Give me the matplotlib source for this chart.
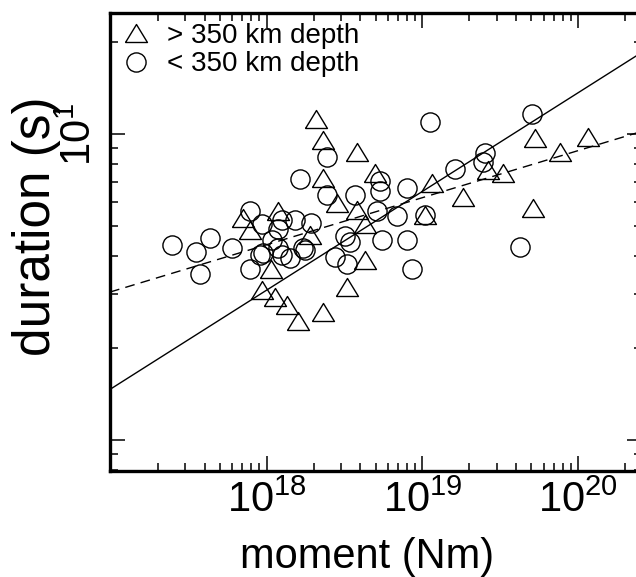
import numpy as np
import matplotlib
matplotlib.use("Agg")
import matplotlib.pyplot as plt
from matplotlib.lines import Line2D
from matplotlib.ticker import LogLocator, NullFormatter, FixedLocator, FixedFormatter

plt.rcParams['font.family'] = ['Liberation Sans', 'DejaVu Sans']
plt.rcParams['mathtext.fontset'] = 'custom'
plt.rcParams['mathtext.rm'] = 'Liberation Sans'
plt.rcParams['mathtext.it'] = 'Liberation Sans'
plt.rcParams['mathtext.bf'] = 'Liberation Sans'

# ---- data (moment in units of 1e18 Nm, duration in s) ----
deep_moment = [2.09, 2.30, 3.78, 2.30, 4.96, 0.705, 0.781, 1.19, 1.90, 2.83,
               3.80, 4.28, 4.28, 1.066, 10.4, 11.5, 18.3, 26.3, 32.9, 52.7,
               76.3, 115.0, 51.2, 0.933, 1.13, 1.35, 1.59, 2.30, 3.28]
deep_duration = [11.2, 9.58, 8.75, 7.19, 7.47, 5.33, 4.86, 5.61, 4.68, 5.96,
                 5.65, 5.09, 3.88, 3.63, 5.45, 6.93, 6.24, 7.64, 7.47, 9.72,
                 8.75, 9.80, 5.74, 3.10, 2.94, 2.77, 2.45, 2.62, 3.17]

shallow_moment = [11.2, 50.2, 25.2, 24.5, 16.2, 7.92, 5.34, 5.34, 1.64, 2.43,
                  2.43, 3.69, 5.10, 6.86, 10.4, 42.3, 8.53, 7.99, 5.47, 3.18,
                  3.43, 2.74, 3.26, 1.94, 1.76, 0.781, 0.929, 1.25, 1.52, 1.18,
                  1.08, 1.19, 1.25, 1.41, 0.906, 0.781, 0.596, 0.433, 0.355, 0.246,
                  0.373, 1.71, 0.947]
shallow_duration = [11.0, 11.6, 8.69, 8.12, 7.70, 6.67, 7.03, 6.53, 7.14, 8.43,
                    6.33, 6.33, 5.61, 5.40, 5.45, 4.28, 3.63, 4.51, 4.51, 4.65,
                    4.44, 3.97, 3.76, 5.13, 4.18, 5.61, 5.09, 5.24, 5.24, 4.90,
                    4.51, 4.25, 4.03, 3.94, 4.03, 3.63, 4.25, 4.58, 4.12, 4.34,
                    3.49, 4.25, 4.09]

# fitted scaling lines: duration = T18 * (M / 1e18) ** slope
solid_T18, solid_slope = 3.09, 0.323
dashed_T18, dashed_slope = 4.35, 0.154

legend_labels = ['> 350 km depth', '< 350 km depth']
x_label = 'moment (Nm)'
y_label = 'duration (s)'
x_ticks = [1e18, 1e19, 1e20]
x_ticklabels = [r'$\mathregular{10^{18}}$', r'$\mathregular{10^{19}}$', r'$\mathregular{10^{20}}$']
y_ticks = [1, 10]
y_ticklabels = ['', r'$\mathregular{10^{1}}$']
xlim = (0.99e17, 2.56e20)
ylim = (0.792, 24.9)

W, H = 636, 577
fig = plt.figure(figsize=(W / 100, H / 100), dpi=100)
L, R, T, B = 110, 642, 13, 471
ax = fig.add_axes([L / W, 1 - B / H, (R - L) / W, (B - T) / H])
ax.set_xscale('log')
ax.set_yscale('log')
ax.set_xlim(*xlim)
ax.set_ylim(*ylim)

tri = [(-1, -0.82), (1, -0.82), (0, 0.82), (-1, -0.82)]

# lines
xs = np.logspace(np.log10(xlim[0]), np.log10(xlim[1]), 50)
ax.plot(xs, solid_T18 * (xs / 1e18) ** solid_slope, color='black', lw=1.0, zorder=1)
ax.plot(xs, dashed_T18 * (xs / 1e18) ** dashed_slope, color='black', lw=1.0,
        dashes=(7, 4.5), zorder=1)

ax.plot(np.array(deep_moment) * 1e18, deep_duration, linestyle='none', marker=tri,
        ms=15.8, mfc='none', mec='black', mew=1.0, zorder=3)
ax.plot(np.array(shallow_moment) * 1e18, shallow_duration, linestyle='none', marker='o',
        ms=13.8, mfc='none', mec='black', mew=1.0, zorder=3)

# ticks
for side in ['left', 'right', 'top', 'bottom']:
    ax.spines[side].set_linewidth(2.4)
ax.xaxis.set_major_locator(FixedLocator(x_ticks))
ax.xaxis.set_major_formatter(FixedFormatter(x_ticklabels))
ax.xaxis.set_minor_locator(LogLocator(base=10, subs=np.arange(2, 10)))
ax.xaxis.set_minor_formatter(NullFormatter())
ax.yaxis.set_major_locator(FixedLocator(y_ticks))
ax.yaxis.set_major_formatter(FixedFormatter(y_ticklabels))
ax.yaxis.set_minor_locator(LogLocator(base=10, subs=np.arange(2, 10)))
ax.yaxis.set_minor_formatter(NullFormatter())
ax.tick_params(which='both', direction='in', top=True, right=True, width=1.1)
ax.tick_params(which='major', length=11)
ax.tick_params(which='minor', length=5.5)
ax.tick_params(axis='x', which='major', labelsize=30, pad=7)
ax.tick_params(axis='y', which='major', labelsize=30, pad=7)
for lab in ax.get_yticklabels():
    lab.set_rotation(90)
    lab.set_va('center')

fig.text(367 / W, 1 - 557 / H, x_label, fontsize=30, ha='center', va='center')
fig.text(37 / W, 1 - 226 / H, y_label, fontsize=37, ha='center', va='center', rotation=90)

handles = [Line2D([], [], linestyle='none', marker=tri, ms=15.8, mfc='none', mec='black', mew=1.0),
           Line2D([], [], linestyle='none', marker='o', ms=13.8, mfc='none', mec='black', mew=1.0)]
ax.legend(handles, legend_labels, loc='upper left', frameon=False, fontsize=20,
          handletextpad=0.5, borderaxespad=0.0, labelspacing=0.1, handlelength=1.2,
          borderpad=0.35)

fig.savefig('out.png', dpi=100)
